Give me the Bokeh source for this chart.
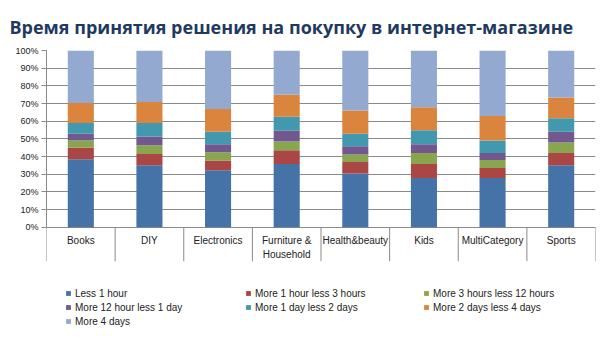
from bokeh.plotting import figure
from bokeh.models import (ColumnDataSource, Range1d, LinearAxis, FixedTicker,
                          NumeralTickFormatter, Legend, LegendItem)
from bokeh.embed import file_html
from bokeh.resources import INLINE

categories = ["Books", "DIY", "Electronics", "Furniture &\nHousehold",
              "Health&beauty", "Kids", "MultiCategory", "Sports"]
series = ["Less 1 hour", "More 1 hour less 3 hours", "More 3 hours less 12 hours",
          "More 12 hour less 1 day", "More 1 day less 2 days",
          "More 2 days less 4 days", "More 4 days"]
less_1_hour = [38.4, 35.0, 32.3, 35.7, 30.4, 27.9, 27.9, 35.0]
h1_3 = [6.5, 6.4, 5.5, 7.8, 6.5, 7.8, 5.6, 7.0]
h3_12 = [4.1, 5.0, 4.6, 5.0, 4.2, 6.3, 4.5, 5.9]
h12_1d = [3.9, 4.9, 4.6, 6.1, 4.7, 5.0, 4.0, 6.1]
d1_2 = [6.0, 7.6, 7.0, 7.9, 7.1, 7.9, 7.0, 7.6]
d2_4 = [11.4, 12.0, 12.9, 12.4, 13.1, 13.0, 13.9, 11.8]
more_4_days = [29.7, 29.1, 33.1, 25.1, 34.0, 32.1, 37.1, 26.6]
y_ticks = [0, 0.1, 0.2, 0.3, 0.4, 0.5, 0.6, 0.7, 0.8, 0.9, 1.0]
colors = ["#4572A7", "#AA4643", "#89A54E", "#71588F", "#4198AF", "#DB843D", "#93A9CF"]
title_text = "Время принятия решения на покупку в интернет-магазине"

W, H = 607, 341
top_px, zero_px = 50, 226.7       # pixel rows of 100% and 0%
px_per_unit = zero_px - top_px
y_start = -(H - zero_px) / px_per_unit

values = [less_1_hour, h1_3, h3_12, h12_1d, d1_2, d2_4, more_4_days]
n = len(categories)
centers = [i + 0.5 for i in range(n)]
bounds = list(range(n + 1))
data = {"x": centers}
for name, vals in zip(series, values):
    data[name] = [v / 100.0 for v in vals]
source = ColumnDataSource(data)

p = figure(width=W, height=H, output_backend="svg", toolbar_location=None,
           x_range=Range1d(0, n), y_range=Range1d(y_start, 1),
           x_axis_location=None, y_axis_location=None,
           min_border_left=46, min_border_right=12, min_border_top=top_px,
           min_border_bottom=0)
p.outline_line_color = None
p.xgrid.grid_line_color = None
p.ygrid.grid_line_color = "#8a8a8a"
p.background_fill_color = "white"
p.border_fill_color = "white"

renderers = p.vbar_stack(series, x="x", width=0.38, color=colors, source=source,
                         line_color=None)

yaxis = LinearAxis(ticker=FixedTicker(ticks=y_ticks),
                   formatter=NumeralTickFormatter(format="0%"), bounds=(0, 1))
yaxis.axis_line_color = "#8a8a8a"
yaxis.major_tick_line_color = "#8a8a8a"
yaxis.major_tick_out = 5
yaxis.major_tick_in = 0
yaxis.minor_tick_line_color = None
yaxis.major_label_text_font = "Liberation Sans"
yaxis.major_label_text_font_size = "9px"
yaxis.major_label_text_color = "#222222"
yaxis.major_label_standoff = 3
p.add_layout(yaxis, "left")
p.ygrid.ticker = yaxis.ticker
p.ygrid.bounds = (0, 1)

# category separators and labels below the zero line
sep_len = 34 / px_per_unit
p.segment(x0=bounds, y0=[0] * len(bounds), x1=bounds, y1=[-sep_len] * len(bounds),
          line_color="#8a8a8a", line_width=1)
p.text(x=centers, y=[-8 / px_per_unit] * n, text=categories,
       text_font={"value": "Liberation Sans"}, text_font_size="10px",
       text_color="#222222", text_align="center", text_baseline="top",
       text_line_height=1.25)

# Legends: three columns
cols = [[0, 3, 6], [1, 4], [2, 5]]
xs = [19, 199, 377]
legend_top = 285
row_h = 14
for col, lx in zip(cols, xs):
    items = [LegendItem(label=series[i], renderers=[renderers[i]]) for i in col]
    bottom = legend_top + row_h * len(col)
    leg = Legend(items=items, location=(lx, H - bottom), orientation="vertical",
                 padding=0, margin=0, spacing=2, border_line_color=None,
                 background_fill_alpha=0, glyph_width=6, glyph_height=6,
                 label_height=12, label_standoff=4,
                 label_text_font="Liberation Sans", label_text_font_size="10px",
                 label_text_color="#222222")
    p.add_layout(leg, "center")

p.title.text = title_text
p.title.text_font = "Open Sans"
p.title.text_font_style = "bold"
p.title.text_font_size = "18px"
p.title.text_color = "#1F3A60"
p.title.align = "left"
p.title.offset = -37
p.title.standoff = 24

open("out.html", "w").write(file_html(p, INLINE))
